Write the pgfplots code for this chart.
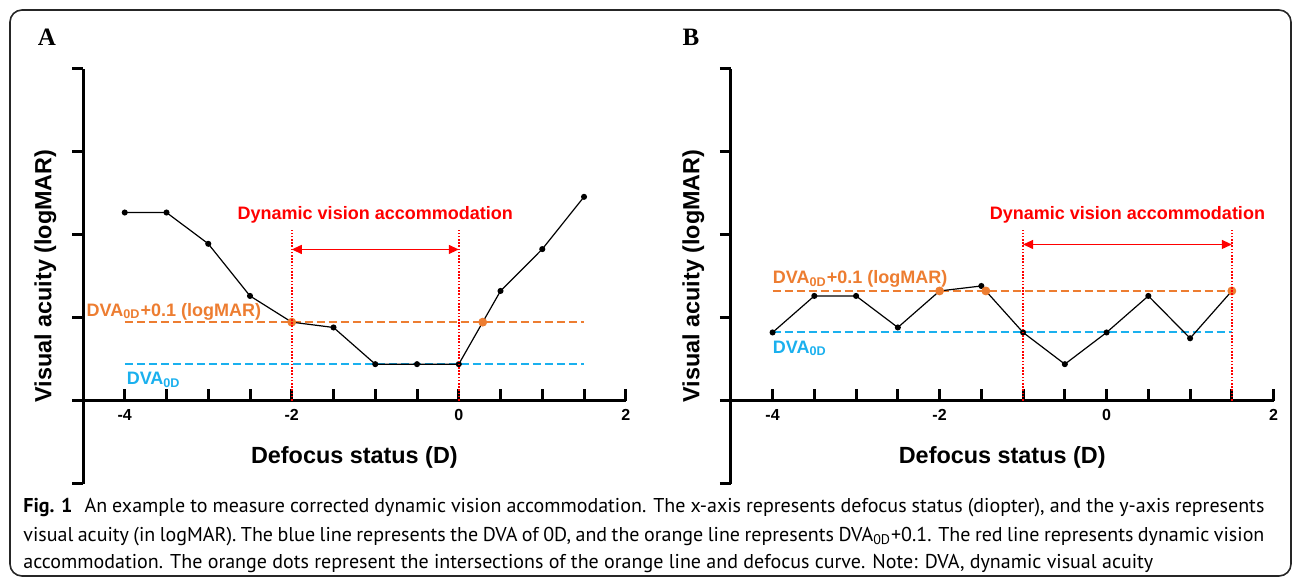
\documentclass[border=0pt]{standalone}
\usepackage{pgfplots}
\pgfplotsset{compat=1.18}
\usepackage{fontspec}
\setmainfont{Liberation Sans}
\newfontfamily\serifb{Liberation Serif}
\newfontfamily\capfont{PT Sans}
\usetikzlibrary{arrows.meta}
\definecolor{dvaorange}{HTML}{ED7D31}
\definecolor{dvablue}{HTML}{1AB0EE}
\definecolor{dvared}{HTML}{FF0000}
\newcommand{\lab}{\bfseries\fontsize{11.7bp}{14bp}\selectfont}
\newcommand{\ann}{\bfseries\fontsize{9bp}{11bp}\selectfont}

\pgfplotsset{
  common/.style={
    x=41.75bp, y=41.5bp,
    xmin=-4.5, xmax=2,
    axis line style={line width=1.5bp, black},
    major tick length=5.5bp, minor tick length=5.5bp,
    tick style={line width=1.5bp, black},
    minor tick style={line width=1.5bp, black},
    clip=false,
  },
  panel/.style={
    common,
    ymin=-1, ymax=4,
    axis x line=none, axis y line*=left,
    xtick=\empty,
    ytick={-1,0,1,2,3,4}, yticklabels={,,,,,},
    ytick align=outside,
  },
  xaxis/.style={
    common,
    ymin=0, ymax=4,
    axis x line*=bottom, axis y line=none,
    ytick=\empty,
    xtick={-4,-2,0,2}, xticklabels={-4,-2,0,2},
    xtick style={draw=none},
    xticklabel style={font=\bfseries\fontsize{8bp}{9bp}\selectfont, inner sep=0pt, yshift=-4.2bp},
    unbounded coords=jump,
  },
  tickmarks/.style={black, line width=1.5bp, mark=none},
  curve/.style={black, line width=0.6bp, mark=*, mark size=1.2bp, mark options={solid}},
  orangeline/.style={dvaorange, line width=1bp, dash pattern=on 4bp off 2bp},
  blueline/.style={dvablue, line width=1bp, dash pattern=on 4bp off 2bp},
  redline/.style={dvared, line width=0.8bp, dash pattern=on 0.8bp off 0.8bp},
  redarrow/.style={dvared, line width=0.6bp, {Triangle[length=5bp,width=4.5bp]}-{Triangle[length=5bp,width=4.5bp]}},
  odots/.style={only marks, mark=*, mark size=2bp, dvaorange, mark options={fill=dvaorange, draw=dvaorange}},
}

\begin{document}
\begin{tikzpicture}
\begin{scope}[x=0.5bp, y=-0.5bp]
  \path[use as bounding box] (0,0) rectangle (1295,582);
  \draw[black!85, line width=0.8bp, rounded corners=6bp] (10,10) rectangle (1291,576);
  \node[font=\serifb\bfseries\fontsize{12.5bp}{14bp}\selectfont] at (47,37) {A};
  \node[font=\serifb\bfseries\fontsize{12.5bp}{14bp}\selectfont] at (691,37) {B};
  \begin{scope}[every node/.style={anchor=base west, inner sep=0pt, font=\capfont\fontsize{10bp}{12bp}\selectfont}]
    \node at (23,512) {\hbox to 620.5bp{\textbf{Fig. 1}\hspace{6bp}An example to measure corrected dynamic vision accommodation. The x-axis represents defocus status (diopter), and the y-axis represents}};
    \node at (23,541) {\hbox to 620.5bp{visual acuity (in logMAR). The blue line represents the DVA of 0D, and the orange line represents DVA\textsubscript{0D}+0.1. The red line represents dynamic vision}};
    \node at (23,568) {accommodation. The orange dots represent the intersections of the orange line and defocus curve. Note: DVA, dynamic visual acuity};
  \end{scope}
\end{scope}

% ---------- Panel A ----------
\begin{axis}[panel, at={(41.5bp,-241.75bp)}, anchor=south west]
  \addplot[blueline] coordinates {(-4,0.438) (1.5,0.438)};
  \addplot[orangeline] coordinates {(-4,0.944) (1.5,0.944)};
  \addplot[curve] coordinates {
    (-4,2.265) (-3.5,2.265) (-3,1.888) (-2.5,1.26) (-2,0.944) (-1.5,0.88)
    (-1,0.438) (-0.5,0.438) (0,0.438) (0.5,1.32) (1,1.824) (1.5,2.454)};
  \addplot[redarrow] coordinates {(-2,1.82) (0,1.82)};
  \addplot[odots] coordinates {(-2,0.944) (0.287,0.944)};
  \node[font=\ann, text=dvared, inner sep=0pt] at (axis cs:-1,2.24) {Dynamic vision accommodation};
  \node[font=\ann, text=dvaorange, inner sep=0pt, anchor=west] at (axis cs:-4.46,1.07) {DVA\textsubscript{0D}+0.1 (logMAR)};
  \node[font=\ann, text=dvablue, inner sep=0pt, anchor=west] at (axis cs:-3.98,0.25) {DVA\textsubscript{0D}};
  \node[font=\lab, rotate=90, inner sep=0pt] at (axis cs:-4.95,1.5) {Visual acuity (logMAR)};
  \node[font=\lab, inner sep=0pt] at (axis cs:-1.25,-0.68) {Defocus status (D)};
\end{axis}
\begin{axis}[xaxis, at={(41.5bp,-200.25bp)}, anchor=south west]
  \addplot[tickmarks] coordinates {(-4,0) (-4,0.14) (-4,nan) (-3.5,0) (-3.5,0.14) (-3.5,nan) (-3,0) (-3,0.14) (-3,nan) (-2.5,0) (-2.5,0.14) (-2.5,nan) (-2,0) (-2,0.14) (-2,nan) (-1.5,0) (-1.5,0.14) (-1.5,nan) (-1,0) (-1,0.14) (-1,nan) (-0.5,0) (-0.5,0.14) (-0.5,nan) (0,0) (0,0.14) (0,nan) (0.5,0) (0.5,0.14) (0.5,nan) (1,0) (1,0.14) (1,nan) (1.5,0) (1.5,0.14) (1.5,nan) (2,0) (2,0.14)};
  \addplot[redline] coordinates {(-2,0) (-2,2.05)};
  \addplot[redline] coordinates {(0,0) (0,2.05)};
\end{axis}

% ---------- Panel B ----------
\begin{axis}[panel, at={(365.4bp,-241.75bp)}, anchor=south west]
  \addplot[blueline] coordinates {(-4,0.82) (1.5,0.82)};
  \addplot[orangeline] coordinates {(-4,1.32) (1.5,1.32)};
  \addplot[curve] coordinates {
    (-4,0.82) (-3.5,1.26) (-3,1.26) (-2.5,0.88) (-2,1.32) (-1.5,1.38)
    (-1,0.82) (-0.5,0.438) (0,0.82) (0.5,1.26) (1,0.75) (1.5,1.32)};
  \addplot[redarrow] coordinates {(-1,1.88) (1.5,1.88)};
  \addplot[odots] coordinates {(-2,1.32) (-1.446,1.32) (1.5,1.32)};
  \node[font=\ann, text=dvared, inner sep=0pt] at (axis cs:0.25,2.24) {Dynamic vision accommodation};
  \node[font=\ann, text=dvaorange, inner sep=0pt, anchor=west] at (axis cs:-4.0,1.46) {DVA\textsubscript{0D}+0.1 (logMAR)};
  \node[font=\ann, text=dvablue, inner sep=0pt, anchor=west] at (axis cs:-4.0,0.63) {DVA\textsubscript{0D}};
  \node[font=\lab, rotate=90, inner sep=0pt] at (axis cs:-4.95,1.5) {Visual acuity (logMAR)};
  \node[font=\lab, inner sep=0pt] at (axis cs:-1.25,-0.68) {Defocus status (D)};
\end{axis}
\begin{axis}[xaxis, at={(365.4bp,-200.25bp)}, anchor=south west]
  \addplot[tickmarks] coordinates {(-4,0) (-4,0.14) (-4,nan) (-3.5,0) (-3.5,0.14) (-3.5,nan) (-3,0) (-3,0.14) (-3,nan) (-2.5,0) (-2.5,0.14) (-2.5,nan) (-2,0) (-2,0.14) (-2,nan) (-1.5,0) (-1.5,0.14) (-1.5,nan) (-1,0) (-1,0.14) (-1,nan) (-0.5,0) (-0.5,0.14) (-0.5,nan) (0,0) (0,0.14) (0,nan) (0.5,0) (0.5,0.14) (0.5,nan) (1,0) (1,0.14) (1,nan) (1.5,0) (1.5,0.14) (1.5,nan) (2,0) (2,0.14)};
  \addplot[redline] coordinates {(-1,0) (-1,2.05)};
  \addplot[redline] coordinates {(1.5,0) (1.5,2.05)};
\end{axis}
\end{tikzpicture}
\end{document}
